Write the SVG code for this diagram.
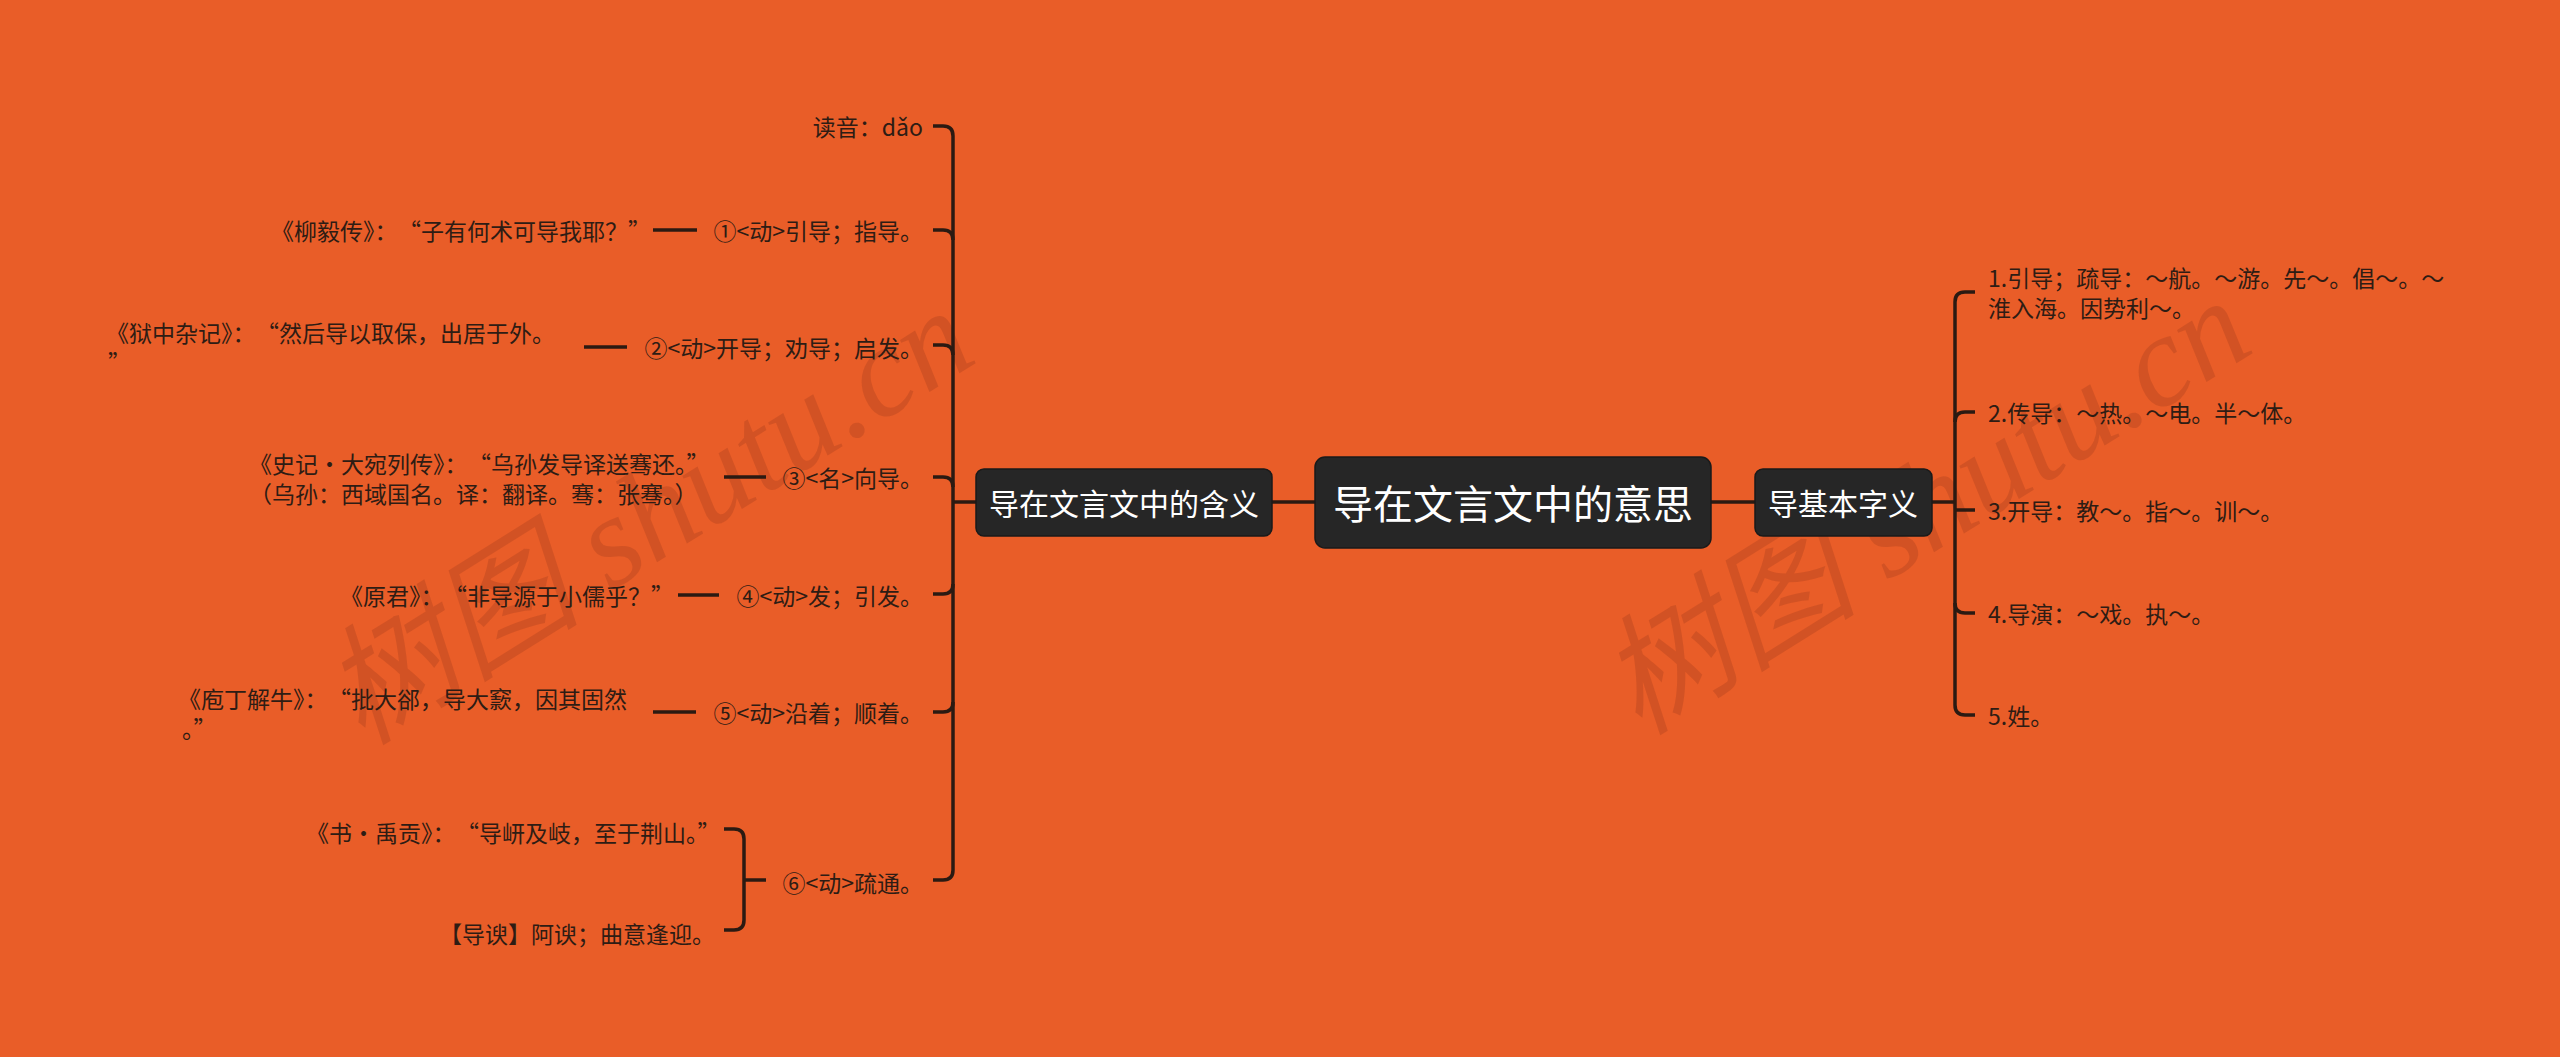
<svg xmlns="http://www.w3.org/2000/svg" width="2560" height="1057" viewBox="0 0 2560 1057">
<style>
.bg{fill:#E95D28}
.wm{font-family:"Liberation Serif","Noto Sans CJK SC",serif;font-style:italic;font-size:130px;fill:#8a3318;fill-opacity:0.24}
.conn{fill:none;stroke:#2b1a12;stroke-width:3.5;stroke-linecap:butt}
.node rect{fill:#262626;stroke:#1a1a1a;stroke-width:1.5}
.nt{font-family:"Noto Sans CJK SC","Noto Sans",sans-serif;fill:#ffffff;text-anchor:middle;dominant-baseline:central}
.leaf{font-family:"Noto Sans CJK SC","Noto Sans",sans-serif;font-size:23px;fill:#2e1c14;dominant-baseline:central}
.end{text-anchor:end}
</style>
<rect class="bg" x="0" y="0" width="2560" height="1057"/>
<g id="watermarks">
<text class="wm" transform="translate(648,516) rotate(-32)" text-anchor="middle" dominant-baseline="central">树图 shutu.cn</text>
<text class="wm" transform="translate(1925,506) rotate(-32)" text-anchor="middle" dominant-baseline="central">树图 shutu.cn</text>
</g>
<g id="connectors">
<path class="conn" d="M1272,502 H1315"/>
<path class="conn" d="M1711,502 H1755"/>
<path class="conn" d="M953,502 H976"/>
<path class="conn" d="M953,136 V870"/>
<path class="conn" d="M933,126 H943 Q953,126 953,136"/>
<path class="conn" d="M933,230 H943 Q953,230 953,240"/>
<path class="conn" d="M933,345 H943 Q953,345 953,355"/>
<path class="conn" d="M933,477 H943 Q953,477 953,487"/>
<path class="conn" d="M933,594 H943 Q953,594 953,584"/>
<path class="conn" d="M933,712 H943 Q953,712 953,702"/>
<path class="conn" d="M933,880 H943 Q953,880 953,870"/>
<path class="conn" d="M653,230 H697"/>
<path class="conn" d="M584,347 H627"/>
<path class="conn" d="M724,477 H766"/>
<path class="conn" d="M678,595 H719"/>
<path class="conn" d="M653,712 H696"/>
<path class="conn" d="M724,829 H734 Q744,829 744,839 V920 Q744,930 734,930 H724"/>
<path class="conn" d="M744,880 H766"/>
<path class="conn" d="M1932,502 H1955"/>
<path class="conn" d="M1955,302 V705"/>
<path class="conn" d="M1975,292 H1965 Q1955,292 1955,302"/>
<path class="conn" d="M1975,412 H1965 Q1955,412 1955,422"/>
<path class="conn" d="M1975,510 H1955"/>
<path class="conn" d="M1975,613 H1965 Q1955,613 1955,603"/>
<path class="conn" d="M1975,715 H1965 Q1955,715 1955,705"/>
</g>
<g id="root" class="node">
<rect x="1315" y="457" width="396" height="91" rx="10"/>
<text class="nt" x="1513" y="502" font-size="40">导在文言文中的意思</text>
</g>
<g id="meaning" class="node">
<rect x="976" y="469" width="296" height="67" rx="8"/>
<text class="nt" x="1124" y="502" font-size="30">导在文言文中的含义</text>
</g>
<g id="basic" class="node">
<rect x="1755" y="469" width="177" height="67" rx="8"/>
<text class="nt" x="1843" y="502" font-size="30">导基本字义</text>
</g>
<g id="reading"><text class="leaf end" x="923" y="126">读音：dǎo</text></g>
<g id="m1"><text class="leaf end" x="923" y="230">①&lt;动&gt;引导；指导。</text></g>
<g id="m1e"><text class="leaf" x="271" y="230">《柳毅传》：<tspan dx="12">“子有何术可导我耶？”</tspan></text></g>
<g id="m2"><text class="leaf end" x="923" y="347">②&lt;动&gt;开导；劝导；启发。</text></g>
<g id="m2e"><text class="leaf" x="106" y="332">《狱中杂记》：<tspan dx="12">“然后导以取保，出居于外。</tspan></text><text class="leaf" x="108" y="362">”</text></g>
<g id="m3"><text class="leaf end" x="923" y="477">③&lt;名&gt;向导。</text></g>
<g id="m3e"><text class="leaf" x="249" y="463">《史记·大宛列传》：<tspan dx="12">“乌孙发导译送骞还。”</tspan></text><text class="leaf" x="249" y="493">（乌孙：西域国名。译：翻译。骞：张骞。）</text></g>
<g id="m4"><text class="leaf end" x="923" y="595">④&lt;动&gt;发；引发。</text></g>
<g id="m4e"><text class="leaf" x="340" y="595">《原君》：<tspan dx="12">“非导源于小儒乎？”</tspan></text></g>
<g id="m5"><text class="leaf end" x="923" y="712">⑤&lt;动&gt;沿着；顺着。</text></g>
<g id="m5e"><text class="leaf" x="178" y="698">《庖丁解牛》：<tspan dx="12">“批大郤，导大窾，因其固然</tspan></text><text class="leaf" x="182" y="728">。”</text></g>
<g id="m6"><text class="leaf end" x="923" y="882">⑥&lt;动&gt;疏通。</text></g>
<g id="m6a"><text class="leaf" x="306" y="832">《书·禹贡》：<tspan dx="12">“导岍及岐，至于荆山。”</tspan></text></g>
<g id="m6b"><text class="leaf" x="439" y="933">【导谀】阿谀；曲意逢迎。</text></g>
<g id="b1"><text class="leaf" x="1988" y="277">1.引导；疏导：～航。～游。先～。倡～。～</text><text class="leaf" x="1988" y="307">淮入海。因势利～。</text></g>
<g id="b2"><text class="leaf" x="1988" y="412">2.传导：～热。～电。半～体。</text></g>
<g id="b3"><text class="leaf" x="1988" y="510">3.开导：教～。指～。训～。</text></g>
<g id="b4"><text class="leaf" x="1988" y="613">4.导演：～戏。执～。</text></g>
<g id="b5"><text class="leaf" x="1988" y="715">5.姓。</text></g>
</svg>
